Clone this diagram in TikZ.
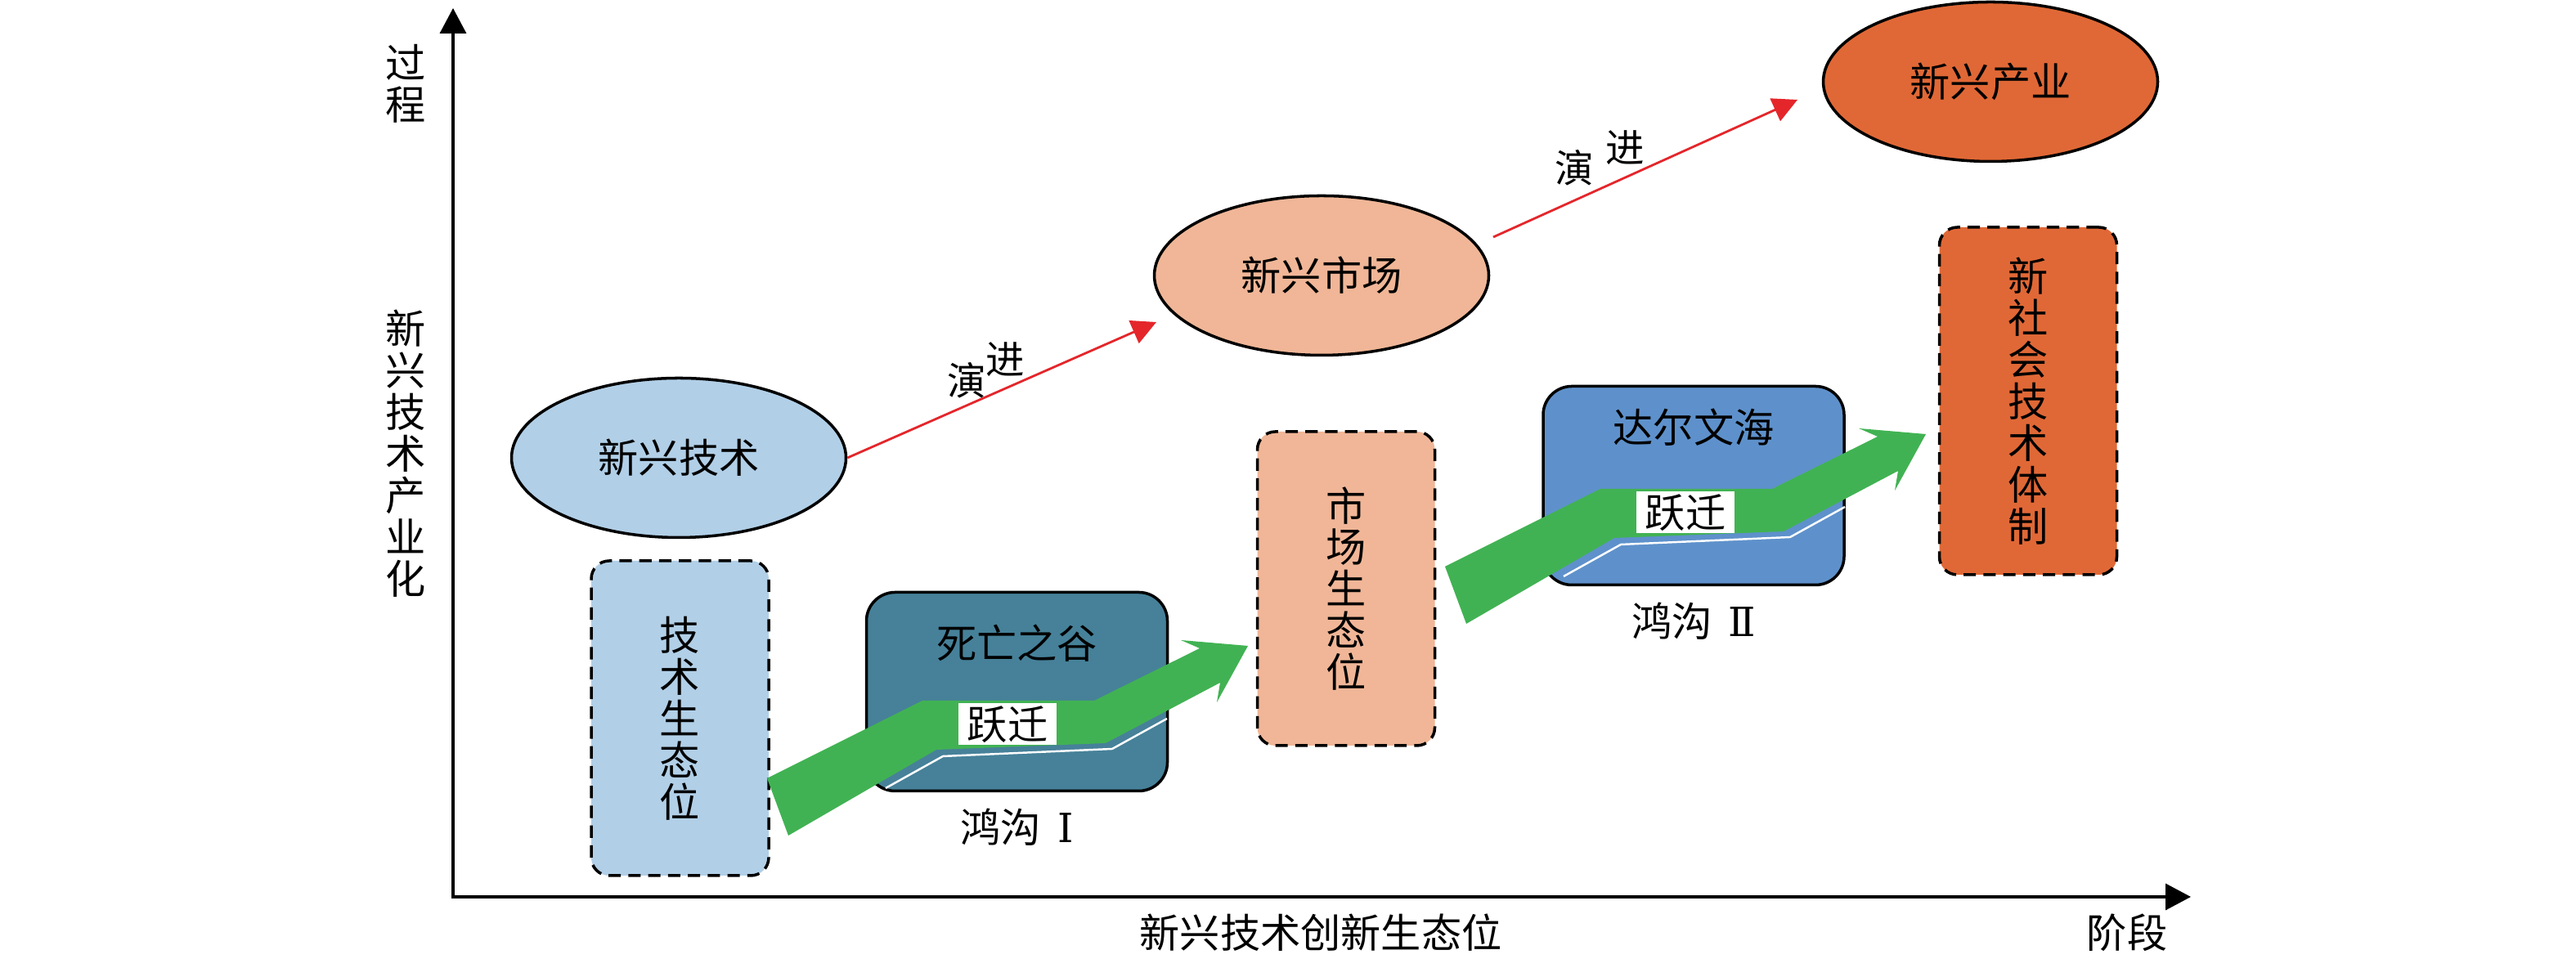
\documentclass[tikz,border=0pt]{standalone}
\usepackage{fontspec}
\setmainfont{Noto Sans CJK SC}
\newfontfamily\numfont{DejaVu Serif}
\usetikzlibrary{arrows.meta,shapes.geometric,positioning}

\definecolor{techblue}{HTML}{B1CFE7}
\definecolor{marketpink}{HTML}{F0B697}
\definecolor{indorange}{HTML}{E06836}
\definecolor{valleyteal}{HTML}{468199}
\definecolor{seablue}{HTML}{5E91CB}
\definecolor{leapgreen}{HTML}{41B253}
\definecolor{evored}{HTML}{E4262B}

\begin{document}
\begin{tikzpicture}[
  font=\fontsize{14}{14.5}\selectfont,
  axis/.style={
    {Triangle[length=3.1mm,width=3.2mm]}-{Triangle[length=3.1mm,width=3.2mm]},
    line width=1pt
  },
  evo/.style={
    -{Triangle[length=3mm,width=3mm]},
    draw=evored,
    line width=0.8pt
  },
  evolbl/.style={font=\fontsize{13.5}{13.5}\selectfont, inner sep=0pt},
  oval/.style={
    ellipse,
    draw,
    line width=1pt,
    minimum width=4.09cm,
    minimum height=1.95cm,
    inner sep=0pt
  },
  niche/.style={
    draw,
    dash pattern=on 4.3pt off 2.6pt,
    line width=1pt,
    rounded corners=0.22cm,
    minimum width=2.17cm,
    align=center,
    inner sep=0pt
  },
  gapbox/.style={
    draw,
    line width=1pt,
    rounded corners=0.35cm,
    minimum width=3.68cm,
    minimum height=2.43cm
  },
  leap/.style={fill=leapgreen},
  rim/.style={draw=white, line width=0.7pt},
  leaptag/.style={
    fill=white,
    minimum width=1.2cm,
    minimum height=0.51cm,
    inner sep=0pt
  }
]

\useasboundingbox (0,0) rectangle (31.5,11.73);

% axes
\coordinate (O) at (5.54,0.76);
\coordinate (ytip) at (5.54,11.63);
\coordinate (xtip) at (26.79,0.76);
\draw[axis] (ytip) -- (O) -- (xtip);

\node[align=center] (ylab1) at (4.96,10.71) {过\\程};
\node[align=center] (ylab2) at (4.96,6.18) {新\\兴\\技\\术\\产\\业\\化};
\node (xlab) at (16.15,0.32) {新兴技术创新生态位};
\node (xend) at (26.01,0.32) {阶段};

% upper track
\node[oval, fill=techblue] (tech) at (8.30,6.13) {新兴技术};
\node[oval, fill=marketpink] (market) at (16.16,8.36) {新兴市场};
\node[oval, fill=indorange] (industry) at (24.34,10.73) {新兴产业};

\coordinate (evo1e) at (14.14,7.79);
\coordinate (evo2s) at (18.26,8.83);
\coordinate (evo2e) at (21.98,10.51);

\draw[evo] (tech.east) -- (evo1e)
  node[evolbl, pos=.386, yshift=.31cm] (evo1a) {演}
  node[evolbl, pos=.512, yshift=.35cm] (evo1b) {进};
\draw[evo] (evo2s) -- (evo2e)
  node[evolbl, pos=.266, yshift=.40cm] (evo2a) {演}
  node[evolbl, pos=.433, yshift=.37cm] (evo2b) {进};

% niches
\node[niche, fill=techblue, minimum height=3.85cm] (technich) at (8.315,2.945)
  {技\\术\\生\\态\\位};
\node[niche, fill=marketpink, minimum height=3.84cm] (marketnich) at (16.46,4.53)
  {市\\场\\生\\态\\位};
\node[niche, fill=indorange, minimum height=4.25cm] (regime) at (24.80,6.825)
  {新\\社\\会\\技\\术\\体\\制};

% chasms
\node[gapbox, fill=valleyteal] (valley) at (12.435,3.27) {};
\node[gapbox, fill=seablue] (sea) at (20.71,5.79) {};

\node (valleytxt) at ([yshift=-0.64cm]valley.north) {死亡之谷};
\node (seatxt) at ([yshift=-0.52cm]sea.north) {达尔文海};
\node (chasm1) at ([yshift=-0.43cm]valley.south) {鸿沟\hspace{0.2cm}{\numfont Ⅰ}};
\node (chasm2) at ([yshift=-0.43cm]sea.south) {鸿沟\hspace{0.2cm}{\numfont Ⅱ}};

% leap arrows
\foreach \gx/\gy [count=\k] in {9.38/2.21, 17.67/4.80}{
  \begin{scope}[shift={(\gx,\gy)}]
    \fill[leap] (0,0) -- (1.90,0.95) -- (4.00,0.95) -- (5.29,1.59)
      -- (5.06,1.69) -- (5.88,1.62) -- (5.50,0.93) -- (5.54,1.17)
      -- (4.14,0.43) -- (2.07,0.35) -- (0.26,-0.70) -- cycle;
    \draw[rim] (1.45,-0.12) -- (2.15,0.27) -- (4.22,0.36) -- (4.89,0.73);
    \node[leaptag] (leap\k) at (2.94,0.66) {跃迁};
  \end{scope}
}

\end{tikzpicture}
\end{document}
